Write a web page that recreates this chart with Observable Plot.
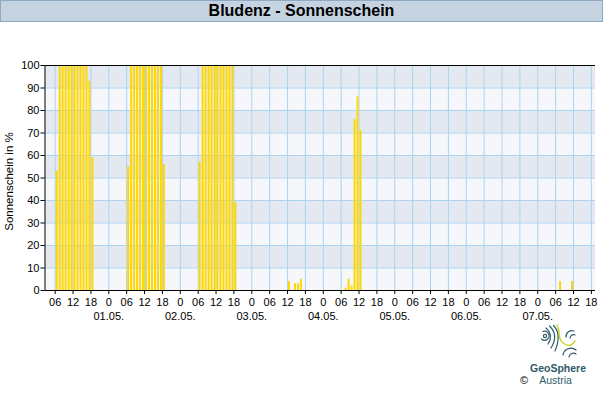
<!DOCTYPE html>
<html><head><meta charset="utf-8">
<script src="https://cdn.jsdelivr.net/npm/d3@7"></script>
<script src="https://cdn.jsdelivr.net/npm/@observablehq/plot@0.6"></script>
<style>
body{margin:0;background:#fff;font-family:"Liberation Sans",Arial,sans-serif;}
#title{box-sizing:border-box;width:603px;height:22px;background:#c5d3e0;border:1px solid #8ea9c2;text-align:center;font-weight:bold;font-size:16px;line-height:20px;color:#000;}
#chart svg{display:block;}
</style></head><body>
<div id="title">Bludenz - Sonnenschein</div>
<div id="chart"></div>
<script>
// hourly sunshine (interval start hour) and percent values
const hourStarts = [
  "2025-04-30T06","2025-04-30T07","2025-04-30T08","2025-04-30T09","2025-04-30T10","2025-04-30T11","2025-04-30T12",
  "2025-04-30T13","2025-04-30T14","2025-04-30T15","2025-04-30T16","2025-04-30T17","2025-04-30T18",
  "2025-05-01T06","2025-05-01T07","2025-05-01T08","2025-05-01T09","2025-05-01T10","2025-05-01T11","2025-05-01T12",
  "2025-05-01T13","2025-05-01T14","2025-05-01T15","2025-05-01T16","2025-05-01T17","2025-05-01T18",
  "2025-05-02T06","2025-05-02T07","2025-05-02T08","2025-05-02T09","2025-05-02T10","2025-05-02T11","2025-05-02T12",
  "2025-05-02T13","2025-05-02T14","2025-05-02T15","2025-05-02T16","2025-05-02T17","2025-05-02T18",
  "2025-05-03T12","2025-05-03T14","2025-05-03T15","2025-05-03T16",
  "2025-05-04T07","2025-05-04T08","2025-05-04T09","2025-05-04T10","2025-05-04T11","2025-05-04T12",
  "2025-05-07T07","2025-05-07T11"
];
const sunshine = [
  53,100,100,100,100,100,100,100,100,100,100,93,59,
  55,100,100,100,100,100,100,100,100,100,100,100,56,
  57,100,100,100,100,100,100,100,100,100,100,100,39,
  4,3,3,5,
  1,5,2,76,86,71,
  4,4
];
const yTicks = [0,10,20,30,40,50,60,70,80,90,100];
const darkBands = [10,30,50,70,90];
const lightBands = [0,20,40,60,80];
const xStart = "2025-04-30T02:35";
const xEnd = "2025-05-07T19:23";

const H = 3600e3;
const parse = s => new Date(s + (s.length === 13 ? ":00Z" : "Z"));
const data = hourStarts.map((t, i) => ({t: parse(t), v: sunshine[i]}));
const xDomain = [parse(xStart), parse(xEnd)];
const hourTicks = d3.utcHour.every(6).range(xDomain[0], xDomain[1]);
const dayTicks = d3.utcDay.range(xDomain[0], xDomain[1]);
const hourFmt = d => { const h = d.getUTCHours(); return h === 0 ? "0" : String(h).padStart(2, "0"); };
const dayFmt = d3.utcFormat("%d.%m.");
const gridColor = "#acd3ef";

const plot = Plot.plot({
  width: 603, height: 378,
  marginLeft: 44.5, marginRight: 8, marginTop: 43, marginBottom: 110,
  style: {fontFamily: "'Liberation Sans', Arial, sans-serif", fontSize: "11px", color: "#000", background: "transparent", overflow: "visible"},
  x: {type: "utc", domain: xDomain},
  y: {domain: [0, 100]},
  marks: [
    Plot.rect(lightBands, {y1: d => d, y2: d => d + 10, fill: "#f5f7fa"}),
    Plot.rect(darkBands, {y1: d => d, y2: d => d + 10, fill: "#e4e9f1"}),
    Plot.gridX({ticks: hourTicks, stroke: gridColor, strokeOpacity: 1}),
    Plot.gridY({ticks: yTicks, stroke: gridColor, strokeOpacity: 1}),
    Plot.rectY(data, {x1: "t", x2: d => new Date(+d.t + H), y: "v", fill: "#ffd700", insetLeft: 1}),
    Plot.ruleY([0, 100], {stroke: "#000"}),
    Plot.ruleX([xDomain[0]], {stroke: "#000"}),
    Plot.axisY({ticks: yTicks, tickSize: 4, tickPadding: 1.5, label: null}),
    Plot.axisX({ticks: hourTicks, tickSize: 4, tickPadding: 4, tickFormat: hourFmt, label: null}),
    Plot.axisX({ticks: dayTicks, tickSize: 0, tickPadding: 21.5, tickFormat: dayFmt, label: null}),
    Plot.text(["Sonnenschein in %"], {frameAnchor: "left", textAnchor: "middle", dx: -36, dy: 3.5, rotate: -90, fill: "#000", fontSize: 11.5})
  ]
});
document.getElementById("chart").append(plot);

// GeoSphere Austria logo
const svg = d3.select(plot);
const oy = -22;
const teal = "#2f5a68";
const g = svg.append("g").attr("fill", "none").attr("stroke-linecap", "round")
  .attr("transform", `translate(0,${oy})`).attr("stroke", teal).attr("stroke-width", 1.2);
g.append("circle").attr("cx", 545).attr("cy", 336).attr("r", 1.6);
g.append("path").attr("d", "M543,331.5 A4.5,4.5 0 1,1 541.5,339");
g.append("path").attr("d", "M546,328 Q554,335 548,344");
g.append("path").attr("d", "M549.5,326 Q559,335 551,348");
g.append("path").attr("d", "M553.5,325.5 Q562,334 555,351");
g.append("path").attr("d", "M557,325 C561,332 557,339 563,343 S571,346 575,341").attr("stroke", "#c9d52c").attr("stroke-width", 1.5);
g.append("path").attr("d", "M574,331 A6,6 0 0,0 566,337");
g.append("path").attr("d", "M575,335 A3.5,3.5 0 0,0 570,338");
g.append("path").attr("d", "M576,350 A8,8 0 0,0 563,355");
g.append("path").attr("d", "M576,354 A4.5,4.5 0 0,0 569,357");
svg.append("text").attr("x", 558).attr("y", 372 + oy).attr("text-anchor", "middle")
  .attr("font-family", "'Liberation Sans', Arial, sans-serif").attr("font-weight", "bold").attr("font-size", 10.5).attr("fill", teal).text("GeoSphere");
svg.append("text").attr("x", 555.5).attr("y", 384 + oy).attr("text-anchor", "middle")
  .attr("font-family", "'Liberation Sans', Arial, sans-serif").attr("font-size", 10.5).attr("fill", teal).text("Austria");
svg.append("text").attr("x", 524).attr("y", 384 + oy).attr("text-anchor", "middle")
  .attr("font-family", "'Liberation Sans', Arial, sans-serif").attr("font-size", 11).attr("fill", "#000").text("©");
</script>
</body></html>
